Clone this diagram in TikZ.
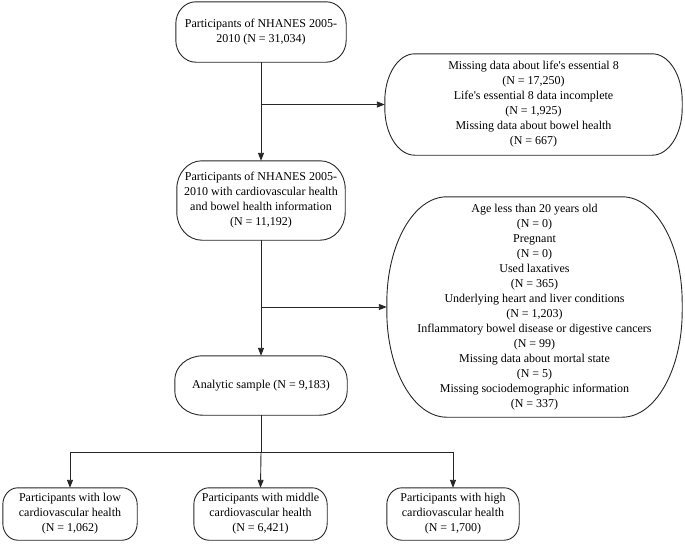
\documentclass[tikz,border=0pt]{standalone}
\usepackage{fontspec}
\setmainfont{Liberation Serif}
\usetikzlibrary{arrows.meta}
\newcommand{\ellbox}[3]{%
 \draw[boxline] ([xshift=#2]#1.north west) -- ([xshift=-#2]#1.north east)
   arc[start angle=90,end angle=0,x radius=#2,y radius=#3]
   -- ([yshift=#3]#1.south east)
   arc[start angle=0,end angle=-90,x radius=#2,y radius=#3]
   -- ([xshift=#2]#1.south west)
   arc[start angle=270,end angle=180,x radius=#2,y radius=#3]
   -- ([yshift=-#3]#1.north west)
   arc[start angle=180,end angle=90,x radius=#2,y radius=#3] -- cycle;}
\begin{document}
\begin{tikzpicture}[x=1pt,y=-1pt,
  boxline/.style={draw=black!85,line width=0.9pt},
  txt/.style={draw=none,inner sep=0pt,align=center,font=\fontsize{12}{15}\selectfont},
  conn/.style={draw=black!85,line width=0.9pt},
  arr/.style={conn,-{Triangle[length=8pt,width=6pt]}}]
\useasboundingbox (0,0) rectangle (685,544);
\node[txt,minimum width=170pt,minimum height=60pt] (b1) at (261,32) {Participants of NHANES 2005-\\2010 (N = 31,034)};
\node[txt,minimum width=297pt,minimum height=101pt] (r1) at (533.5,104.5) {Missing data about life\textquotesingle s essential 8\\(N = 17,250)\\Life\textquotesingle s essential 8 data incomplete\\(N = 1,925)\\Missing data about bowel health\\(N = 667)};
\node[txt,minimum width=168pt,minimum height=79pt] (b2) at (261,200.5) {Participants of NHANES 2005-\\2010 with cardiovascular health\\and bowel health information\\(N = 11,192)};
\node[txt,minimum width=295pt,minimum height=220pt] (r2) at (534.5,307) {Age less than 20 years old\\(N = 0)\\Pregnant\\(N = 0)\\Used laxatives\\(N = 365)\\Underlying heart and liver conditions\\(N = 1,203)\\Inflammatory bowel disease or digestive cancers\\(N = 99)\\Missing data about mortal state\\(N = 5)\\Missing sociodemographic information\\(N = 337)};
\node[txt,minimum width=172pt,minimum height=59pt] (b3) at (261,385.5) {Analytic sample (N = 9,183)};
\node[txt,minimum width=134pt,minimum height=52pt] (c1) at (70,514) {Participants with low\\cardiovascular health\\(N = 1,062)};
\node[txt,minimum width=133pt,minimum height=52pt] (c2) at (260.5,514) {Participants with middle\\cardiovascular health\\(N = 6,421)};
\node[txt,minimum width=132pt,minimum height=52pt] (c3) at (453,514) {Participants with high\\cardiovascular health\\(N = 1,700)};
\ellbox{b1}{20pt}{22pt}
\ellbox{r1}{30pt}{47pt}
\ellbox{b2}{25pt}{28pt}
\ellbox{r2}{60pt}{106pt}
\ellbox{b3}{28pt}{24pt}
\ellbox{c1}{15pt}{17pt}
\ellbox{c2}{15pt}{17pt}
\ellbox{c3}{15pt}{17pt}
\coordinate (j1) at (b1.south |- r1.west);
\coordinate (j2) at (b2.south |- r2.west);
\coordinate (j3) at (261,452);
\draw[arr] (b1.south) -- (b2.north);
\draw[arr] (j1) -- (r1.west);
\draw[arr] (b2.south) -- (b3.north);
\draw[arr] (j2) -- (r2.west);
\draw[conn] (b3.south) -- (j3);
\draw[arr] (j3) -| (c1.north);
\draw[arr] (j3) -| (c3.north);
\draw[arr] (j3) -- (c2.north);
\end{tikzpicture}
\end{document}
